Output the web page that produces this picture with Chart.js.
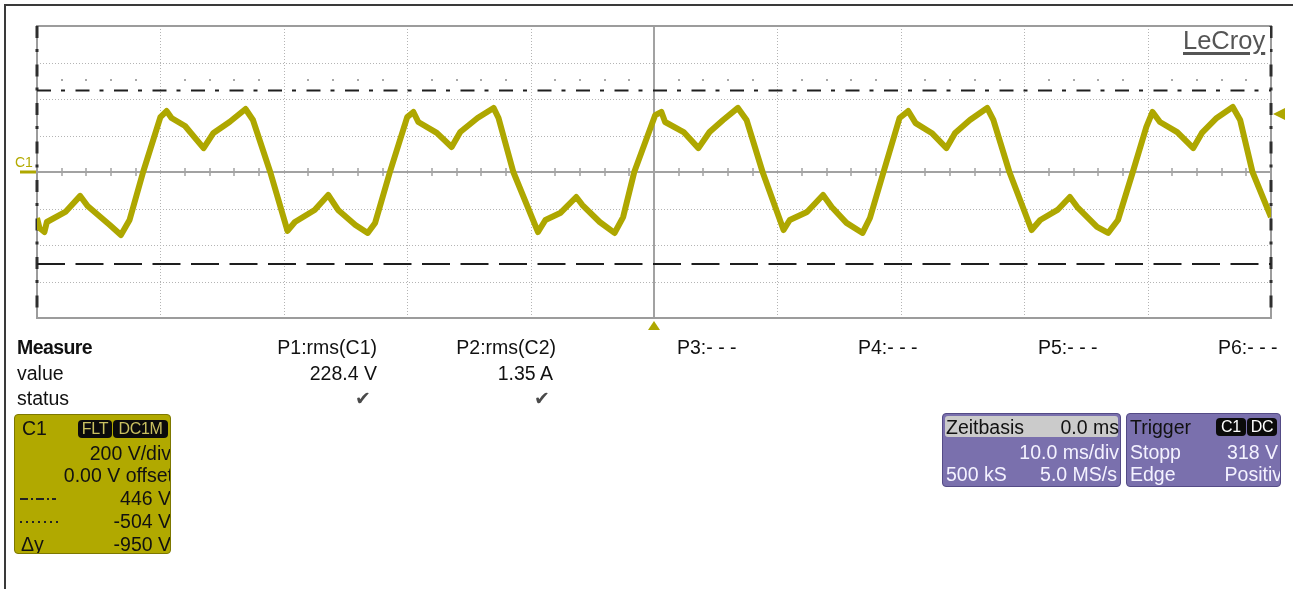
<!DOCTYPE html>
<html>
<head>
<meta charset="utf-8">
<script src="https://cdn.jsdelivr.net/npm/chart.js@4.4.1/dist/chart.umd.min.js"></script>
<style>
  html, body { margin: 0; padding: 0; background: #fff; }
  body { width: 1293px; height: 589px; position: relative; overflow: hidden;
         font-family: "Liberation Sans", Arial, sans-serif; font-size: 19.5px; color: #111; }
  #scope { position: absolute; left: 0; top: 0; }
  .frame-top { position: absolute; left: 4px; top: 4px; width: 1289px; height: 2px; background: #3a3a3a; }
  .frame-left { position: absolute; left: 4px; top: 4px; width: 2px; height: 585px; background: #3a3a3a; }
  .t { position: absolute; line-height: 20px; white-space: nowrap; }
  .r { text-align: right; }
  .b { font-weight: bold; letter-spacing: -0.6px; }
  .chk { position: absolute; font-family: "DejaVu Sans", sans-serif; font-size: 19px; color: #4a4a4a; line-height: 20px; }
  .box { position: absolute; border-radius: 4px; overflow: hidden; box-sizing: border-box; }
  .c1box { left: 14px; top: 414px; width: 157px; height: 140px; background: #b1a900; border: 1px solid #7d7800; }
  .pbox { background: #7a70ad; border: 1px solid #544b86; height: 74px; top: 413px; color: #f4f2ff; }
  .pill { position: absolute; background: #0b0b0b; border-radius: 4px; height: 18px; line-height: 18px;
          font-size: 16px; text-align: center; letter-spacing: -0.3px; }
  .hdr { position: absolute; left: 2px; top: 2px; width: 173px; height: 21px; background: #cbcbcb; border-radius: 3px; }
  .logo { position: absolute; left: 1177px; top: 27px; width: 93px; height: 31px; background: #fff; }
  .logo span { position: absolute; left: 6px; top: 0px; font-size: 25.5px; line-height: 26px; color: #555;
               text-decoration: underline; text-decoration-thickness: 3px; text-underline-offset: 3px; }
  .c1tag { position: absolute; left: 15px; top: 155px; font-size: 14px; color: #b3aa00; line-height: 14px; }
  .sym { position: absolute; left: 5px; height: 2px; }
</style>
</head>
<body>
<canvas id="scope" width="1293" height="589"></canvas>
<div class="frame-top"></div>
<div class="frame-left"></div>

<div class="logo"><span>LeCroy</span></div>
<div class="c1tag">C1</div>

<!-- measurement table -->
<div class="t b" style="left:17px; top:337px;">Measure</div>
<div class="t" style="left:17px; top:363px;">value</div>
<div class="t" style="left:17px; top:388px;">status</div>

<div class="t r" style="right:916px; top:337px;">P1:rms(C1)</div>
<div class="t r" style="right:916px; top:363px;">228.4 V</div>
<div class="chk" style="left:355px; top:388px;">✔</div>

<div class="t r" style="right:737px; top:337px;">P2:rms(C2)</div>
<div class="t r" style="right:740px; top:363px;">1.35 A</div>
<div class="chk" style="left:534px; top:388px;">✔</div>

<div class="t" style="left:677px; top:337px;">P3:- - -</div>
<div class="t" style="left:858px; top:337px;">P4:- - -</div>
<div class="t" style="left:1038px; top:337px;">P5:- - -</div>
<div class="t" style="left:1218px; top:337px;">P6:- - -</div>

<!-- channel 1 descriptor -->
<div class="box c1box">
  <div class="t" style="left:7px; top:3px;">C1</div>
  <div class="pill" style="left:63px; top:5px; width:34px; color:#c9c060;">FLT</div>
  <div class="pill" style="left:98px; top:5px; width:55px; color:#c9c060;">DC1M</div>
  <div class="t r" style="right:-1px; top:28px;">200 V/div</div>
  <div class="t r" style="right:-3px; top:50px;">0.00 V offset</div>
  <div class="sym" style="top:83px; width:36px; background: repeating-linear-gradient(90deg, #222 0 8px, transparent 8px 11px, #222 11px 13px, transparent 13px 16px);"></div>
  <div class="t r" style="right:-1px; top:73px;">446 V</div>
  <div class="sym" style="top:106px; width:38px; background: repeating-linear-gradient(90deg, #222 0 2px, transparent 2px 6px);"></div>
  <div class="t r" style="right:-1px; top:96px;">-504 V</div>
  <div class="t" style="left:6px; top:119px;">Δy</div>
  <div class="t r" style="right:-1px; top:119px;">-950 V</div>
</div>

<!-- timebase -->
<div class="box pbox" style="left:942px; width:179px;">
  <div class="hdr"></div>
  <div class="t" style="left:3px; top:3px; color:#111;">Zeitbasis</div>
  <div class="t r" style="right:1px; top:3px; color:#111;">0.0 ms</div>
  <div class="t r" style="right:1px; top:28px;">10.0 ms/div</div>
  <div class="t" style="left:3px; top:50px;">500 kS</div>
  <div class="t r" style="right:3px; top:50px;">5.0 MS/s</div>
</div>

<!-- trigger -->
<div class="box pbox" style="left:1126px; width:155px;">
  <div class="t" style="left:3px; top:3px; color:#111;">Trigger</div>
  <div class="pill" style="left:89px; top:4px; width:30px; color:#fff;">C1</div>
  <div class="pill" style="left:120px; top:4px; width:30px; color:#fff;">DC</div>
  <div class="t" style="left:3px; top:28px;">Stopp</div>
  <div class="t r" style="right:2px; top:28px;">318 V</div>
  <div class="t" style="left:3px; top:50px;">Edge</div>
  <div class="t r" style="right:-2px; top:50px;">Positiv</div>
</div>

<script>
// Channel 1 acquisition: time in ms (trigger at 0), voltage in V
const timeMs = [
  -50.0, -49.8, -49.4, -49.2, -47.7, -46.5, -45.9, -44.1, -43.2, -42.5,
  -41.4, -40.0, -39.5, -39.1, -38.0, -36.5, -35.7, -34.4, -33.1, -32.5,
  -31.1, -29.7, -29.1, -27.5, -26.4, -25.6, -24.2, -23.2, -22.6, -21.4,
  -20.0, -19.5, -19.1, -17.6, -16.4, -15.7, -14.3, -13.0, -12.6, -11.4,
  -9.4, -8.8, -7.6, -6.3, -5.8, -4.4, -3.2, -2.5, -1.6,
  0.1, 0.6, 0.9, 2.4, 3.6, 4.5, 5.6, 6.8, 7.5, 8.8,
  10.5, 11.0, 12.4, 13.7, 14.4, 15.6, 16.9, 17.5, 18.6,
  19.9, 20.6, 21.2, 22.5, 23.7, 24.4, 25.6, 27.0, 27.5, 28.8,
  30.6, 31.3, 32.7, 33.7, 34.3, 35.9, 36.8, 37.6, 38.8,
  39.9, 40.4, 41.0, 42.4, 43.7, 44.4, 45.6, 46.9, 47.5, 48.5, 50.0
];
const voltsC1 = [
  -252, -307, -329, -274, -219, -131, -186, -290, -345, -263,
  0, 301, 334, 296, 252, 131, 214, 274, 345, 285,
  0, -323, -274, -208, -126, -208, -290, -334, -279, 0,
  301, 329, 274, 214, 137, 219, 296, 351, 296, 0,
  -329, -263, -225, -137, -181, -274, -334, -247, 0,
  312, 329, 274, 219, 131, 219, 285, 351, 285, 0,
  -318, -263, -219, -126, -192, -279, -334, -252, 0,
  296, 334, 268, 214, 131, 214, 285, 351, 285, 0,
  -318, -263, -208, -137, -192, -301, -334, -263, 0,
  247, 329, 274, 219, 131, 214, 296, 356, 285, 0, -247
];

// Display settings
const timeDivMs = 10;        // 10.0 ms/div
const voltDiv = 200;         // 200 V/div
const hDivs = 10, vDivs = 8;
const cursorUpper = 446;     // dash-dot cursor
const cursorLower = -504;    // dashed cursor
const dotRowLevel = 504;     // dotted marker row
const triggerLevel = 318;    // trigger level
const triggerTime = 0;       // trigger position

const traceColor = 'rgb(174,167,0)';
const tMin = -timeDivMs * hDivs / 2, tMax = timeDivMs * hDivs / 2;
const vMin = -voltDiv * vDivs / 2, vMax = voltDiv * vDivs / 2;

const gridPlugin = {
  id: 'scopeGrid',
  beforeDatasetsDraw(chart) {
    const { ctx, chartArea: a, scales: { x, y } } = chart;
    ctx.save();
    // dotted division lines
    ctx.strokeStyle = '#b4b4b4';
    ctx.lineWidth = 1;
    ctx.setLineDash([1, 2]);
    for (let i = 1; i < hDivs; i++) {
      if (i === hDivs / 2) continue;
      const px = Math.round(x.getPixelForValue(tMin + i * timeDivMs)) + 0.5;
      ctx.beginPath(); ctx.moveTo(px, a.top); ctx.lineTo(px, a.bottom); ctx.stroke();
    }
    for (let j = 1; j < vDivs; j++) {
      if (j === vDivs / 2) continue;
      const py = Math.round(y.getPixelForValue(vMin + j * voltDiv)) + 0.5;
      ctx.beginPath(); ctx.moveTo(a.left, py); ctx.lineTo(a.right, py); ctx.stroke();
    }
    ctx.setLineDash([]);
    // centre axes
    ctx.strokeStyle = '#a2a2a2';
    ctx.lineWidth = 2;
    const cx = Math.round(x.getPixelForValue(0));
    const cy = Math.round(y.getPixelForValue(0));
    ctx.beginPath(); ctx.moveTo(cx, a.top); ctx.lineTo(cx, a.bottom); ctx.stroke();
    ctx.beginPath(); ctx.moveTo(a.left, cy); ctx.lineTo(a.right, cy); ctx.stroke();
    // minor ticks on the horizontal centre axis
    ctx.lineWidth = 1.5;
    for (let t = tMin + 2; t < tMax; t += 2) {
      if (Math.abs(t % timeDivMs) < 1e-6) continue;
      const px = Math.round(x.getPixelForValue(t));
      ctx.beginPath(); ctx.moveTo(px, cy - 4); ctx.lineTo(px, cy + 4); ctx.stroke();
    }
    // dotted marker row
    ctx.fillStyle = '#a8a8a8';
    const dy = Math.round(y.getPixelForValue(dotRowLevel));
    for (let t = tMin + 2; t < tMax; t += 2) {
      if (Math.abs(t % timeDivMs) < 1e-6) continue;
      const px = Math.round(x.getPixelForValue(t));
      ctx.fillRect(px - 1, dy - 1, 2, 2);
    }
    // plot edges
    ctx.strokeStyle = '#9c9c9c';
    ctx.lineWidth = 2;
    ctx.strokeRect(a.left, a.top, a.right - a.left, a.bottom - a.top);
    // dark dash-dot side edges
    ctx.strokeStyle = '#2e2e2e';
    ctx.lineWidth = 3;
    ctx.setLineDash([12, 11, 3, 12.5]);
    ctx.beginPath(); ctx.moveTo(a.left, a.top); ctx.lineTo(a.left, a.bottom); ctx.stroke();
    ctx.beginPath(); ctx.moveTo(a.right, a.top); ctx.lineTo(a.right, a.bottom); ctx.stroke();
    ctx.restore();
  },
  afterDraw(chart) {
    const { ctx, chartArea: a, scales: { x, y } } = chart;
    ctx.save();
    ctx.fillStyle = traceColor;
    ctx.strokeStyle = traceColor;
    // channel ground marker
    const gy = Math.round(y.getPixelForValue(0));
    ctx.lineWidth = 3;
    ctx.beginPath(); ctx.moveTo(20, gy); ctx.lineTo(a.left - 1, gy); ctx.stroke();
    // trigger level marker (right)
    const ty = y.getPixelForValue(triggerLevel);
    ctx.beginPath();
    ctx.moveTo(a.right + 2, ty); ctx.lineTo(a.right + 14, ty - 6); ctx.lineTo(a.right + 14, ty + 6);
    ctx.closePath(); ctx.fill();
    // trigger position marker (bottom)
    const tx = x.getPixelForValue(triggerTime);
    ctx.beginPath();
    ctx.moveTo(tx, a.bottom + 3); ctx.lineTo(tx - 6, a.bottom + 12); ctx.lineTo(tx + 6, a.bottom + 12);
    ctx.closePath(); ctx.fill();
    ctx.restore();
  }
};

const pts = timeMs.map((t, i) => ({ x: t, y: voltsC1[i] }));
const hline = v => [{ x: tMin, y: v }, { x: tMax, y: v }];

new Chart(document.getElementById('scope'), {
  type: 'line',
  data: {
    datasets: [
      { label: 'C1', data: pts, borderColor: traceColor, borderWidth: 6,
        pointRadius: 0, tension: 0, borderJoinStyle: 'round', order: 0 },
      { label: 'cursor 446 V', data: hline(cursorUpper), borderColor: '#1e1e1e', borderWidth: 2,
        borderDash: [14, 10, 4, 10.5], pointRadius: 0, order: 1 },
      { label: 'cursor -504 V', data: hline(cursorLower), borderColor: '#1e1e1e', borderWidth: 2,
        borderDash: [28, 10.5], pointRadius: 0, order: 1 }
    ]
  },
  options: {
    responsive: false,
    animation: false,
    parsing: false,
    layout: { padding: { left: 37, right: 22, top: 26, bottom: 271 } },
    plugins: { legend: { display: false }, tooltip: { enabled: false } },
    scales: {
      x: { type: 'linear', min: tMin, max: tMax, display: false },
      y: { type: 'linear', min: vMin, max: vMax, display: false }
    }
  },
  plugins: [gridPlugin]
});
</script>
</body>
</html>
